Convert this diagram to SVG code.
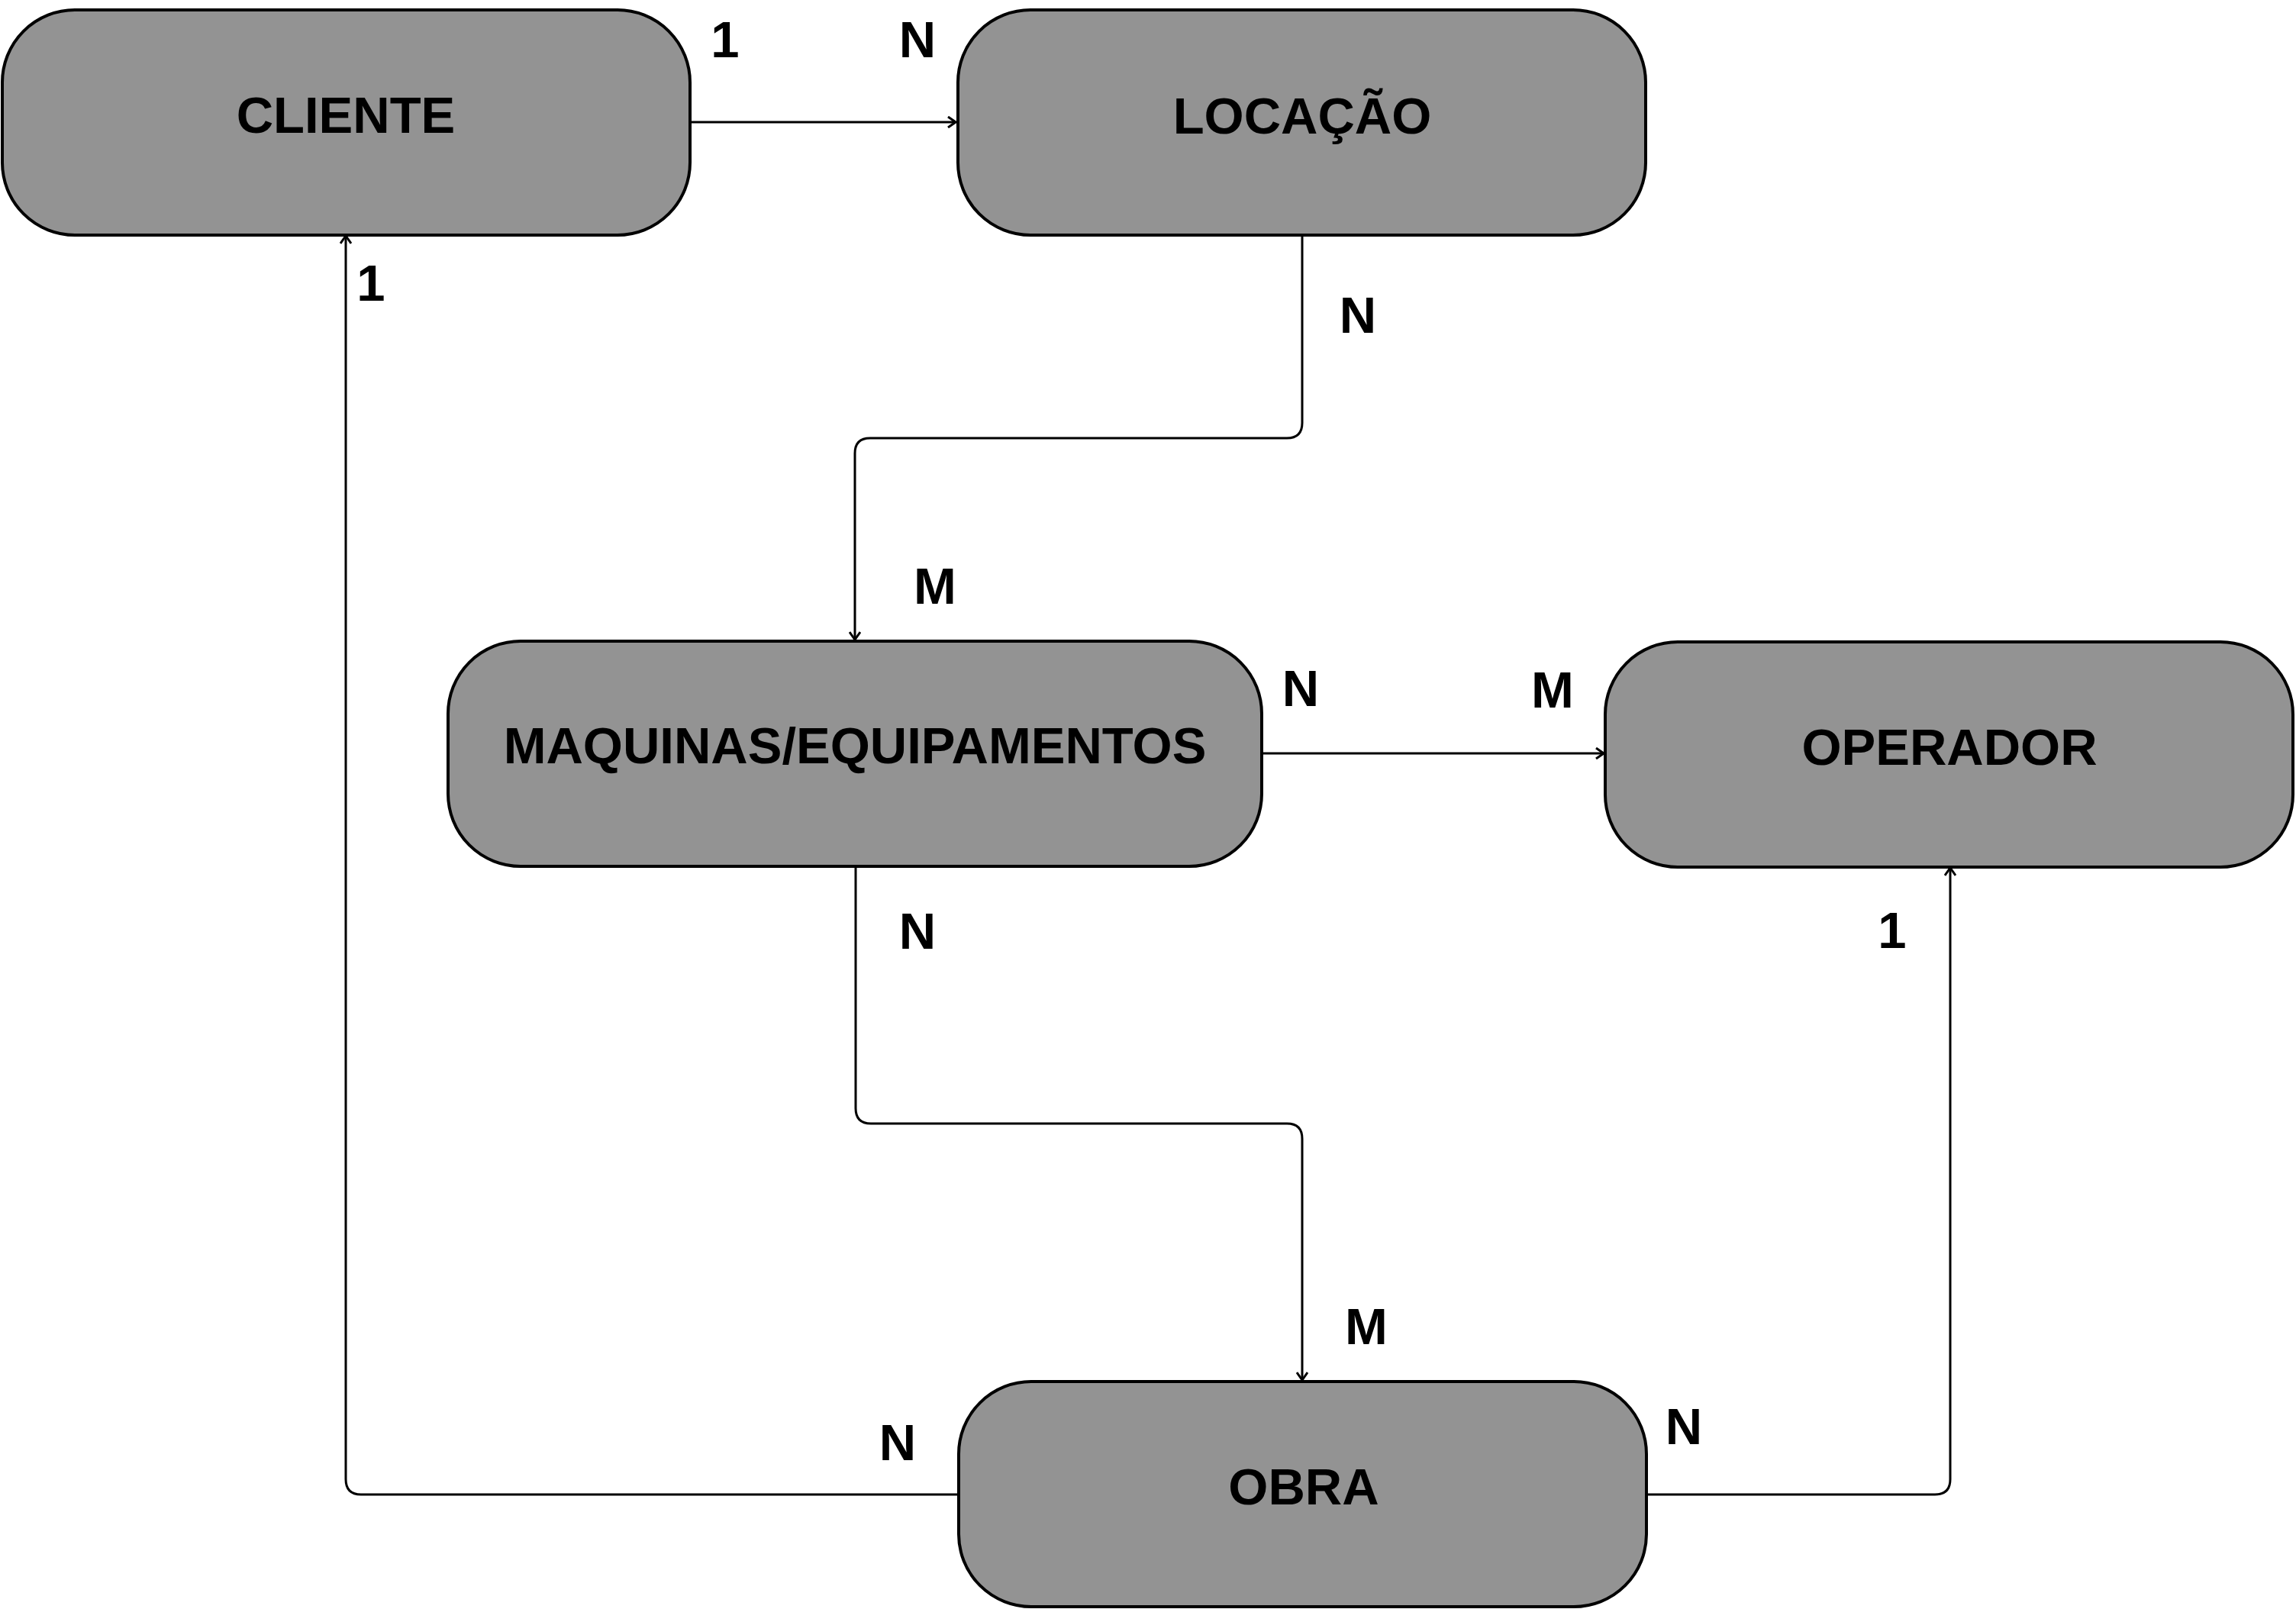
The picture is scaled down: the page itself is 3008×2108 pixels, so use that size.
<svg xmlns="http://www.w3.org/2000/svg" width="3008" height="2108" viewBox="0 0 3008 2108">
<defs>
<style>
.box{fill:#939393;stroke:#000;stroke-width:4}
.t{font-family:"Liberation Sans",Arial,sans-serif;font-weight:bold;font-size:67px;fill:#000;text-anchor:middle}
.c{fill:none;stroke:#000;stroke-width:3}
</style>
<marker id="arr" viewBox="0 0 12 16" refX="11" refY="8" markerWidth="12" markerHeight="16" markerUnits="userSpaceOnUse" orient="auto">
<path d="M1,1 L11,8 L1,15" fill="none" stroke="#000" stroke-width="3"/>
</marker>
</defs>
<rect width="3008" height="2108" fill="#fff"/>
<g id="connectors">
<path class="c" d="M904 160 L1252 160" marker-end="url(#arr)"/>
<path class="c" d="M1706 309 L1706 554 Q1706 574 1686 574 L1140 574 Q1120 574 1120 594 L1120 838" marker-end="url(#arr)"/>
<path class="c" d="M1654 987 L2101 987" marker-end="url(#arr)"/>
<path class="c" d="M1121 1137 L1121 1452 Q1121 1472 1141 1472 L1686 1472 Q1706 1472 1706 1492 L1706 1808" marker-end="url(#arr)"/>
<path class="c" d="M1255 1958 L473 1958 Q453 1958 453 1938 L453 309" marker-end="url(#arr)"/>
<path class="c" d="M2157 1958 L2535 1958 Q2555 1958 2555 1938 L2555 1137" marker-end="url(#arr)"/>
</g>
<g id="cliente">
<rect class="box" x="3" y="13" width="901" height="295" rx="95" ry="95"/>
<text class="t" x="453" y="174">CLIENTE</text>
</g>
<g id="locacao">
<rect class="box" x="1255" y="13" width="901" height="295" rx="95" ry="95"/>
<text class="t" x="1706" y="175">LOCAÇÃO</text>
</g>
<g id="maquinas">
<rect class="box" x="587" y="840" width="1066" height="295" rx="95" ry="95"/>
<text class="t" x="1120" y="1000">MAQUINAS/EQUIPAMENTOS</text>
</g>
<g id="operador">
<rect class="box" x="2103" y="841" width="901" height="295" rx="95" ry="95"/>
<text class="t" x="2554" y="1002">OPERADOR</text>
</g>
<g id="obra">
<rect class="box" x="1256" y="1810" width="901" height="295" rx="95" ry="95"/>
<text class="t" x="1708" y="1971">OBRA</text>
</g>
<g id="labels">
<text class="t" x="950" y="75">1</text>
<text class="t" x="1202" y="75">N</text>
<text class="t" x="486" y="394">1</text>
<text class="t" x="1779" y="436">N</text>
<text class="t" x="1225" y="791">M</text>
<text class="t" x="1704" y="925">N</text>
<text class="t" x="2034" y="927">M</text>
<text class="t" x="1202" y="1243">N</text>
<text class="t" x="2479" y="1242">1</text>
<text class="t" x="1790" y="1761">M</text>
<text class="t" x="1176" y="1913">N</text>
<text class="t" x="2206" y="1892">N</text>
</g>
</svg>
